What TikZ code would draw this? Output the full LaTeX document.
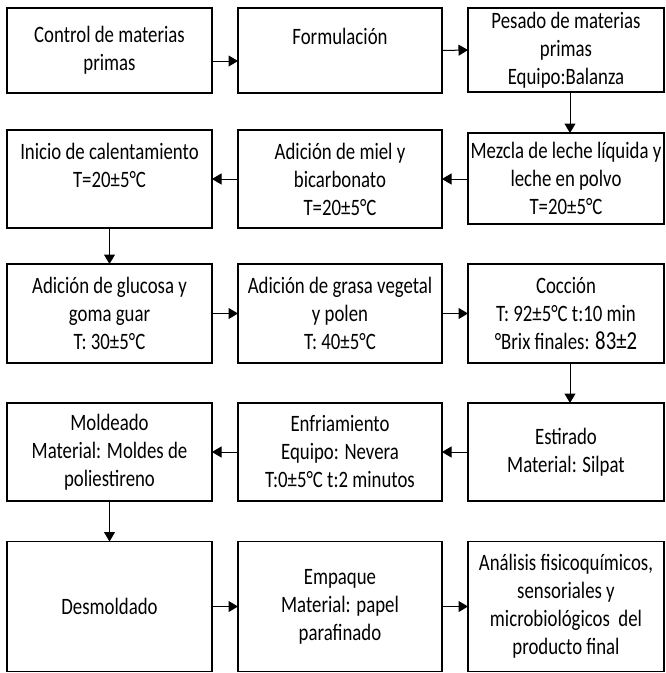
\documentclass[tikz,border=0pt]{standalone}
\usepackage{fontspec}
\setmainfont{Carlito}[FakeStretch=0.8]
\usetikzlibrary{arrows.meta}
\begin{document}
\begin{tikzpicture}[x=1pt,y=-1pt,
  box/.style={draw, line width=1.1pt, inner sep=0pt, outer sep=0pt, align=center,
    font=\fontsize{23.5}{28}\selectfont},
  arr/.style={line width=1pt, -{Triangle[length=9.5pt,width=11pt]}}]
\useasboundingbox (0,0) rectangle (666,673);
% row 1
\node[box, minimum width=205pt, minimum height=85pt] (b1) at (109.5,50.5) {Control de materias\\ primas};
\node[box, minimum width=204pt, minimum height=85pt] (b2) at (340,50.5) {Formulación\\ \mbox{}};
\node[box, minimum width=196pt, minimum height=84pt] (b3) at (566,50) {Pesado de materias\\ primas\\ Equipo:Balanza};
% row 2
\node[box, minimum width=196pt, minimum height=91pt] (b4) at (566,178.5) {Mezcla de leche líquida y\\ leche en polvo\\ T=20±5°C};
\node[box, minimum width=204pt, minimum height=98pt] (b5) at (340,179) {Adición de miel y\\ bicarbonato\\ T=20±5°C};
\node[box, minimum width=205pt, minimum height=98pt] (b6) at (109.5,179) {Inicio de calentamiento\\ T=20±5°C\\ \mbox{}};
% row 3
\node[box, minimum width=205pt, minimum height=99pt] (b7) at (109.5,313.5) {Adición de glucosa y\\ goma guar\\ T: 30±5°C};
\node[box, minimum width=204pt, minimum height=99pt] (b8) at (340,313.5) {Adición de grasa vegetal\\ y polen\\ T: 40±5°C};
\node[box, minimum width=196pt, minimum height=99pt] (b9) at (566,313.5) {Cocción\\ T: 92±5°C t:10 min\\ °Brix finales: {\fontsize{26}{28}\selectfont 83±2}};
% row 4
\node[box, minimum width=196pt, minimum height=98pt] (b10) at (566,452) {Estirado\\ Material: Silpat};
\node[box, minimum width=204pt, minimum height=98pt] (b11) at (340,452) {Enfriamiento\\ Equipo: Nevera\\ T:0±5°C t:2 minutos};
\node[box, minimum width=205pt, minimum height=98pt] (b12) at (109.5,452) {Moldeado\\ Material: Moldes de\\ poliestireno};
% row 5
\node[box, minimum width=205pt, minimum height=130pt] (b13) at (109.5,606.5) {Desmoldado};
\node[box, minimum width=204pt, minimum height=130pt] (b14) at (340,606.5) {Empaque\\ Material: papel\\ parafinado};
\node[box, minimum width=196pt, minimum height=130pt] (b15) at (566,606.5) {Análisis fisicoquímicos,\\ sensoriales y\\ microbiológicos\ \ del\\ producto final};
% arrows
\draw[arr] ([yshift=-10.5pt]b1.east) -- ([yshift=-10.5pt]b2.west);
\draw[arr] (b2.east) -- (b3.west);
\draw[arr] ([xshift=4pt]b3.south) -- ([xshift=4pt]b4.north);
\draw[arr] (b4.west |- b5.east) -- (b5.east);
\draw[arr] (b5.west) -- (b6.east);
\draw[arr] (b6.south) -- (b7.north);
\draw[arr] (b7.east) -- (b8.west);
\draw[arr] (b8.east) -- (b9.west);
\draw[arr] ([xshift=4pt]b9.south) -- ([xshift=4pt]b10.north);
\draw[arr] (b10.west) -- (b11.east);
\draw[arr] (b11.west) -- (b12.east);
\draw[arr] (b12.south) -- (b13.north);
\draw[arr] (b13.east) -- (b14.west);
\draw[arr] (b14.east) -- (b15.west);
\end{tikzpicture}
\end{document}
